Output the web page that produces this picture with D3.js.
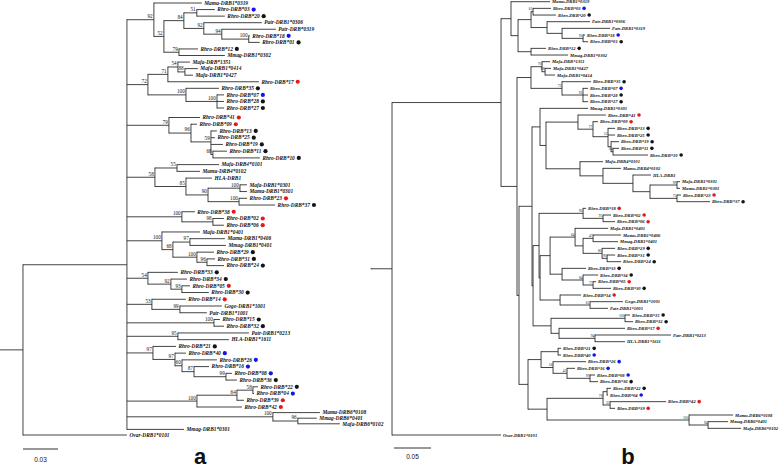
<!DOCTYPE html>
<html><head><meta charset="utf-8">
<script src="https://cdn.jsdelivr.net/npm/d3@7"></script>
<style>body{margin:0;background:#fff}svg{display:block}</style>
</head><body><svg id="c" width="779" height="472"></svg>
<script>
// ---------- DATA: tree a (clades, Newick, branch lengths in substitutions/site) ----------
const cladesA = [
 "(Mamu-DRB1*0319:0.0411,(((Rhro-DRB*03:0.0154,Rhro-DRB*20:0.024)51:0.0111,(Patr-DRB1*0306:0.0497,(Patr-DRB*0319:0.0463,(Rhro-DRB*18:0.0009,Rhro-DRB*01:0.0094)100:0.0231)94:0.0154)92:0.0171)84:0.0171,(Rhro-DRB*12:0.0163,Mmag-DRB1*0302:0.0394)79:0.0129)52:0.0086)92:0.0231",
 "(((Mafa-DRB*1351:0.0103,(Mafa-DRB1*0414:0.0111,Mafa-DRB1*0427:0.0069)88:0.006)54:0.0086,Rhro-DRB*17:0.078)71:0.0171,(Rhro-DRB*35:0.0283,(Rhro-DRB*07:0.006,Rhro-DRB*28:0.006,Rhro-DRB*27:0.006)100:0.0266)100:0.0326)72:0.018",
 "(Rhro-DRB*41:0.0266,(Rhro-DRB*09:0.0051,(Rhro-DRB*13:0.0051,Rhro-DRB*25:0.0034,Rhro-DRB*19:0.0103,(Rhro-DRB*11:0.012,Rhro-DRB*10:0.0403)68:0.0017)59:0.0171)96:0.0189)79:0.036",
 "((Mafa-DRB4*0101:0.036,Mamu-DRB4*0102:0.0197)55:0.0189,(HLA-DRB1:0.0223,((Mafa-DRB1*0301:0.006,Mamu-DRB1*0301:0.006)100:0.0274,(Rhro-DRB*23:0.0069,Rhro-DRB*37:0.0309)100:0.0266)90:0.0189)85:0.0266)58:0.024",
 "(Rhro-DRB*38:0.0111,(Rhro-DRB*02:0.0094,Rhro-DRB*06:0.0094)98:0.0266)100:0.0471",
 "(Mafa-DRB1*0401:0.0326,((Mamu-DRB1*0406:0.03,Mmag-DRB1*0401:0.0309)97:0.0146,(Rhro-DRB*29:0.0146,(Rhro-DRB*31:0.0069,Rhro-DRB*24:0.0146)96:0.0086)100:0.0206)68:0.0094)100:0.03",
 "(Rhro-DRB*33:0.0257,(Rhro-DRB*34:0.0137,(Rhro-DRB*05:0.0069,Rhro-DRB*30:0.0231)93:0.0094)92:0.0197)54:0.018",
 "(Rhro-DRB*14:0.0291,(Gogo-DRB1*1001:0.036,Patr-DRB1*1001:0.0231)99:0.024)53:0.0214",
 "(Rhro-DRB*15:0.0051,Rhro-DRB*32:0.0086)100:0.0746",
 "(Patr-DRB1*0213:0.0609,HLA-DRB1*1611:0.0437)95:0.0437",
 "(Rhro-DRB*21:0.0197,(Rhro-DRB*40:0.0094,(Rhro-DRB*26:0.03,(Rhro-DRB*16:0.0129,(Rhro-DRB*08:0.0051,Rhro-DRB*36:0.0094)99:0.0274)87:0.0103)60:0.006)97:0.0189)97:0.0223",
 "(((Rhro-DRB*22:0.0043,Rhro-DRB*04:0.0009)58:0.0137,Rhro-DRB*39:0.006)64:0.0343,Rhro-DRB*42:0.0386)100:0.06",
 "(Mamu-DRB6*0108:0.0403,(Mmag-DRB6*0401:0.0163,Mafa-DRB6*0102:0.036)96:0.0214)100:0.1251",
 "Mmag-DRB1*0301:0.0489"
];
const ingroupLenA = 0.0891, outgroupA = "Ovar-DRB1*0101:0.0891", rootStubA = 0.0197;

// ---------- DATA: tree b ----------
const cladeB_top = "(Mamu-DRB1*0319:0.0527,(((Rhro-DRB*03:0.0243,Rhro-DRB*20:0.0311)61:0.0027,(Patr-DRB1*0306:0.0581,(Patr-DRB1*0319:0.0649,(Rhro-DRB*18:0.0027,Rhro-DRB*01:0.0068)91:0.0284):0.0203):0.0216):0.0176,(Rhro-DRB*12:0.0203,Mmag-DRB1*0302:0.05):0.0176):0.0095):0.0135";
const cladeB_mafa = "((Mafa-DRB*1351:0.0108,(Mafa-DRB1*0427:0.0081,Mafa-DRB1*0414:0.0135)88:0.0041)70:0.0149,(Rhro-DRB*35:0.0392,(Rhro-DRB*07:0.0068,Rhro-DRB*28:0.0068,Rhro-DRB*27:0.0068)91:0.0284)73:0.0419):0.0189";
const cladeB_mid1 = "(Mmag-DRB1*0301:0.0649,((Rhro-DRB*41:0.0378,(Rhro-DRB*09:0.0068,(Rhro-DRB*13:0.0095,Rhro-DRB*25:0.0095,(Rhro-DRB*19:0.0108,(Rhro-DRB*11:0.0081,Rhro-DRB*10:0.0473)34:0.0027):0.0041)52:0.0203)77:0.0203):0.0432,(Mafa-DRB4*0101:0.0311,(Mamu-DRB4*0102:0.0243,(HLA-DRB1:0.0243,((Mafa-DRB1*0301:0.0041,Mamu-DRB1*0301:0.0041)99:0.0365,(Rhro-DRB*23:0.0054,Rhro-DRB*37:0.0446)75:0.0365):0.023):0.0405):0.0311):0.0459):0.0081):0.0108";
const cladeB_mid2 = "((Mafa-DRB1*0401:0.0446,((Mamu-DRB1*0406:0.0378,Mmag-DRB1*0401:0.0338)47:0.0135,(Rhro-DRB*29:0.0176,(Rhro-DRB*31:0.0108,Rhro-DRB*24:0.0189)90:0.0068)80:0.0257):0.0108)64:0.0338,(Rhro-DRB*33:0.0324,(Rhro-DRB*34:0.0203,(Rhro-DRB*05:0.0041,Rhro-DRB*30:0.0243)77:0.0135)84:0.0284):0.0162):0.0135";
const cladeB_mid3 = "(Rhro-DRB*14:0.0284,(Gogo-DRB1*1001:0.0446,Patr-DRB1*1001:0.0243)61:0.0405):0.027";
const cladeB_e38 = "(Rhro-DRB*38:0.0041,(Rhro-DRB*02:0.0108,Rhro-DRB*06:0.0162)95:0.027)92:0.0595";
const cladeB_mid4 = "((Rhro-DRB*15:0.0068,Rhro-DRB*32:0.0108)100:0.1,(Rhro-DRB*17:0.0892,(Patr-DRB1*0213:0.1027,HLA-DRB1*1611:0.0405)94:0.0486):0.0108):0.0243";
const cladeB_low = "(((Rhro-DRB*21:0.0041,Rhro-DRB*40:0.0041):0.023,(Rhro-DRB*26:0.0446,(Rhro-DRB*16:0.0108,(Rhro-DRB*08:0.0068,Rhro-DRB*36:0.0108)99:0.0311)41:0.0189)56:0.0162):0.0176,(((Rhro-DRB*22:0.0054,Rhro-DRB*04:0.0014):0.0054,(Rhro-DRB*42:0.0757,Rhro-DRB*39:0.0068)33:0.0095)78:0.0757,(Mamu-DRB6*0108:0.0595,(Mmag-DRB6*0401:0.027,Mafa-DRB6*0102:0.0446)94:0.0257)100:0.1919):0.0257):0.0122";
const ingroupLenB = 0.1473, outgroupB = "Ovar-DRB1*0101:0.1473", rootStubB = 0.0284;

// allele marker colours (Rhro alleles), same in both trees
const blueAlleles = ["03","18","07","40","26","16","08","04"];
const redAlleles  = ["17","41","09","23","38","02","06","05","14","39","42"];
const scaleBarValues = [0.03, 0.05];
const panelLabels = ["a","b"];

// ---------- assemble Newick ----------
const newickA = "((" + cladesA.join(",") + "):" + ingroupLenA + "," + outgroupA + "):" + rootStubA + ";";
const n539a = "(" + cladeB_e38 + ",(" + cladeB_mid2 + "," + cladeB_mid3 + "):0.0014):0.0081";
const n532b = "(" + n539a + "," + cladeB_mid4 + "):0.0014";
const n532a = "(" + cladeB_mid1 + "," + n532b + "):0.0176";
const n519 = "(" + n532a + "," + cladeB_low + "):0.0027";
const n517 = "(" + cladeB_mafa + "," + n519 + "):0.0216";
const newickB = "(((" + cladeB_top + "," + n517 + "):" + ingroupLenB + "," + outgroupB + "):" + rootStubB + ";";

function parseNewick(s){
  let i = 0;
  function node(){
    const n = {children: []};
    if (s[i] === "("){
      i++; n.children.push(node());
      while (s[i] === ","){ i++; n.children.push(node()); }
      i++;
    }
    let name = "";
    while (i < s.length && !":,();".includes(s[i])) name += s[i++];
    n.name = name.trim();
    n.length = 0;
    if (s[i] === ":"){ i++; let v = ""; while (i < s.length && !",();".includes(s[i])) v += s[i++]; n.length = +v; }
    if (!n.children.length) delete n.children;
    return n;
  }
  return node();
}

const svg = d3.select("#c");

function drawTree(cfg){
  const root = d3.hierarchy(parseNewick(cfg.newick));
  root.eachBefore(d => { d.dist = (d.parent ? d.parent.dist : 0) + d.data.length; });
  const leaves = root.leaves();
  leaves.forEach((d,i) => { d.yy = cfg.y(i); });
  root.eachAfter(d => { if (d.children) d.yy = d3.mean(d.children, c => c.yy); });
  const x = cfg.x;
  const g = svg.append("g");
  const line = "#222";
  g.append("line").attr("x1", x(0)).attr("x2", x(root.dist)).attr("y1", root.yy).attr("y2", root.yy)
    .attr("stroke", line).attr("stroke-width", cfg.sw);
  g.selectAll("line.h").data(root.descendants().filter(d => d.parent)).join("line")
    .attr("x1", d => x(d.parent.dist)).attr("x2", d => x(d.dist))
    .attr("y1", d => d.yy).attr("y2", d => d.yy)
    .attr("stroke", line).attr("stroke-width", cfg.sw);
  g.selectAll("line.v").data(root.descendants().filter(d => d.children)).join("line")
    .attr("x1", d => x(d.dist)).attr("x2", d => x(d.dist))
    .attr("y1", d => d.children[0].yy - cfg.sw/2).attr("y2", d => d.children[d.children.length-1].yy + cfg.sw/2)
    .attr("stroke", line).attr("stroke-width", cfg.sw);
  g.selectAll("text.bs").data(root.descendants().filter(d => d.children && d.data.name)).join("text")
    .attr("x", d => x(d.dist) - cfg.bsDx).attr("y", d => d.yy - cfg.bsDy)
    .attr("text-anchor", "end").attr("font-family", "Liberation Serif").attr("font-size", cfg.bsSize)
    .attr("fill", "#111").text(d => d.data.name);
  const lab = g.selectAll("text.leaf").data(leaves).join("text")
    .attr("x", d => x(d.dist) + cfg.gap).attr("y", d => d.yy + cfg.fs*0.33)
    .attr("font-family", "Liberation Serif").attr("font-style", "italic").attr("font-weight", "bold")
    .attr("font-size", cfg.fs).attr("fill", "#111").text(d => d.data.name);
  lab.each(function(d){
    const m = /^Rhro-DRB\*(\d+)$/.exec(d.data.name);
    if (!m) return;
    const col = blueAlleles.includes(m[1]) ? "#1515e6" : redAlleles.includes(m[1]) ? "#e41a1a" : "#151515";
    const w = this.getComputedTextLength();
    g.append("circle").attr("cx", x(d.dist) + cfg.gap + w + cfg.dotGap).attr("cy", d.yy)
      .attr("r", cfg.r).attr("fill", col);
  });
  const bw = x(cfg.bar) - x(0);
  g.append("line").attr("x1", cfg.barX).attr("x2", cfg.barX + bw).attr("y1", cfg.barY).attr("y2", cfg.barY)
    .attr("stroke", "#333").attr("stroke-width", 1.2);
  g.append("text").attr("x", cfg.barX + bw/2).attr("y", cfg.barY + cfg.barTy).attr("text-anchor", "middle")
    .attr("font-family", "Liberation Sans").attr("font-size", 6.5).attr("fill", "#111").text(cfg.bar);
  g.append("text").attr("x", cfg.pX).attr("y", cfg.pY).attr("text-anchor", "middle")
    .attr("font-family", "Liberation Sans").attr("font-weight", "bold").attr("font-size", 22)
    .attr("fill", "#111").text(cfg.panel);
}

drawTree({
  newick: newickA,
  x: d3.scaleLinear().domain([0, 0.03]).range([0, 35]),
  y: d3.scaleLinear().domain([0, 16, 17, 60, 65]).range([3, 108, 117.5, 407, 435]),
  sw: 0.85, fs: 5.4, gap: 2.5, r: 2.1, dotGap: 4, bsSize: 5.2, bsDx: 1.2, bsDy: 1.6,
  bar: scaleBarValues[0], barX: 23, barY: 449, barTy: 12.5, panel: panelLabels[0], pX: 200, pY: 464
});
drawTree({
  newick: newickB,
  x: d3.scaleLinear().domain([0, 0.05]).range([371, 408]),
  y: d3.scaleLinear().domain([0, 65]).range([1.7, 435]),
  sw: 0.85, fs: 4.6, gap: 2, r: 1.8, dotGap: 3.5, bsSize: 3.6, bsDx: 0.6, bsDy: 1.2,
  bar: scaleBarValues[1], barX: 394, barY: 448, barTy: 10.5, panel: panelLabels[1], pX: 628, pY: 464
});
</script>
</body></html>
